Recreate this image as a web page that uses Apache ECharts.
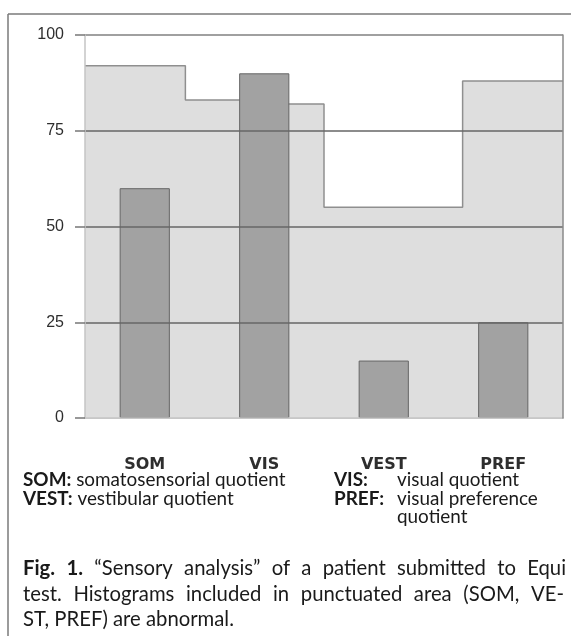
<!DOCTYPE html>
<html>
<head>
<meta charset="utf-8">
<script src="https://cdn.jsdelivr.net/npm/echarts@6/dist/echarts.min.js"></script>
<style>
html,body{margin:0;padding:0;background:#fff;}
#chart{width:571px;height:636px;}
</style>
</head>
<body>
<div id="chart"></div>
<script>
// ---- data ----
const categories = ['SOM', 'VIS', 'VEST', 'PREF'];
const barValues = [60, 90, 15, 25];
// normal-range step area: edges in category units and level for each segment
const stepEdges = [0, 0.84, 1.67, 2.0, 3.16, 4];
const stepValues = [92, 83, 82, 55, 88, 88];
const yTicks = [0, 25, 50, 75, 100];
const legendLeft = [['SOM:', 'somatosensorial quotient'], ['VEST:', 'vestibular quotient']];
const legendRight = [['VIS:', 'visual quotient'], ['PREF:', 'visual preference', 'quotient']];
const captionBold = 'Fig. 1.';
const captionLines = [
  '\u201cSensory analysis\u201d of a patient submitted to Equi',
  'test. Histograms included in punctuated area (SOM, VE-',
  'ST, PREF) are abnormal.'
];

const chart = echarts.init(document.getElementById('chart'), null, {renderer: 'canvas'});

const stepData = stepEdges.map((e, i) => [e, stepValues[i]]);

const textFont = 'Lato';
const ink = '#1a1a1a';
const mctx = document.createElement('canvas').getContext('2d');
function measure(t, bold, size) {
  mctx.font = (bold ? 'bold ' : '') + size + 'px ' + textFont;
  return mctx.measureText(t).width;
}
// font sizes fitted to the reference's measured text widths
const legSize = Math.round(209 / measure(legendLeft[0][1], false, 100) * 1000) / 10;
const capSize = Math.round(211 / measure(captionLines[2], false, 100) * 1000) / 10;

const graphics = [
  {type: 'line', shape: {x1: 8, y1: 14, x2: 571, y2: 14}, style: {stroke: '#7a7a7a', lineWidth: 1.5}},
  {type: 'line', shape: {x1: 8, y1: 14, x2: 8, y2: 636}, style: {stroke: '#7a7a7a', lineWidth: 1.5}}
];
const rowY = [480, 498.5, 517];
legendLeft.forEach((row, i) => {
  graphics.push({type: 'text', x: 23, y: rowY[i], style: {
    text: '{k|' + row[0] + '} {d|' + row[1] + '}',
    rich: {k: {font: 'bold ' + legSize + 'px ' + textFont, fill: ink}, d: {font: legSize + 'px ' + textFont, fill: ink}},
    font: legSize + 'px ' + textFont, verticalAlign: 'middle'}});
});
legendRight.forEach((row, i) => {
  graphics.push({type: 'text', x: 334, y: rowY[i], style: {text: row[0], font: 'bold ' + legSize + 'px ' + textFont, fill: ink, verticalAlign: 'middle'}});
  graphics.push({type: 'text', x: 397, y: rowY[i], style: {text: row[1], font: legSize + 'px ' + textFont, fill: ink, verticalAlign: 'middle'}});
  if (row[2]) {
    graphics.push({type: 'text', x: 397, y: rowY[i + 1], style: {text: row[2], font: legSize + 'px ' + textFont, fill: ink, verticalAlign: 'middle'}});
  }
});

// justified caption
const capY = [568, 594, 619];
const capRight = [566, 564, null];
captionLines.forEach((line, li) => {
  const words = [];
  if (li === 0) captionBold.split(' ').forEach(w => words.push({t: w, b: true}));
  line.split(' ').forEach(w => words.push({t: w, b: false}));
  const widths = words.map(w => measure(w.t, w.b, capSize));
  const total = widths.reduce((a, b) => a + b, 0);
  let gap = measure(' ', false, capSize);
  if (capRight[li] !== null) gap = (capRight[li] - 23 - total) / (words.length - 1);
  let x = 23;
  words.forEach((w, wi) => {
    graphics.push({type: 'text', x: x, y: capY[li], style: {text: w.t, font: (w.b ? 'bold ' : '') + capSize + 'px ' + textFont, fill: ink, verticalAlign: 'middle'}});
    x += widths[wi] + gap;
  });
});

const option = {
  animation: false,
  backgroundColor: '#ffffff',
  grid: {left: 85, right: 8, top: 35, bottom: 218, containLabel: false},
  xAxis: [
    {
      type: 'category', data: categories, boundaryGap: true,
      axisLine: {show: true, lineStyle: {color: '#bdbdbd', width: 1.5}},
      axisTick: {show: false},
      splitLine: {show: false},
      axisLabel: {margin: 39, fontFamily: 'DejaVu Sans', fontWeight: 'bold', fontSize: 16, color: '#2e2e2e'}
    },
    {type: 'value', min: 0, max: 4, show: false}
  ],
  yAxis: [
    {
      type: 'value', min: 0, max: 100, interval: 25, z: 5,
      axisLine: {show: true, lineStyle: {color: '#c4c4c4', width: 1.5}},
      axisTick: {show: true, length: 10, lineStyle: {color: '#777', width: 1.5}},
      axisLabel: {margin: 21, fontFamily: 'Liberation Sans', fontSize: 16, color: '#2e2e2e'},
      splitLine: {show: true, lineStyle: {color: ['#c4c4c4', '#666666', '#666666', '#666666', '#808080'], width: 1.6}}
    },
    {
      type: 'value', min: 0, max: 100, position: 'right', z: 5,
      axisLine: {show: true, lineStyle: {color: '#8a8a8a', width: 1.5}},
      axisTick: {show: false}, axisLabel: {show: false}, splitLine: {show: false}
    }
  ],
  series: [
    {
      type: 'line', xAxisIndex: 1, yAxisIndex: 0, step: 'end', data: stepData,
      symbol: 'none', z: 1,
      lineStyle: {color: '#8f8f8f', width: 1.5},
      areaStyle: {color: '#dedede', opacity: 1, origin: 'start'}
    },
    {
      type: 'bar', xAxisIndex: 0, yAxisIndex: 0, data: barValues, barWidth: '42%', z: 2,
      itemStyle: {color: '#a2a2a2', borderColor: '#666666', borderWidth: 1}
    }
  ],
  graphic: graphics
};
chart.setOption(option);
</script>
</body>
</html>
